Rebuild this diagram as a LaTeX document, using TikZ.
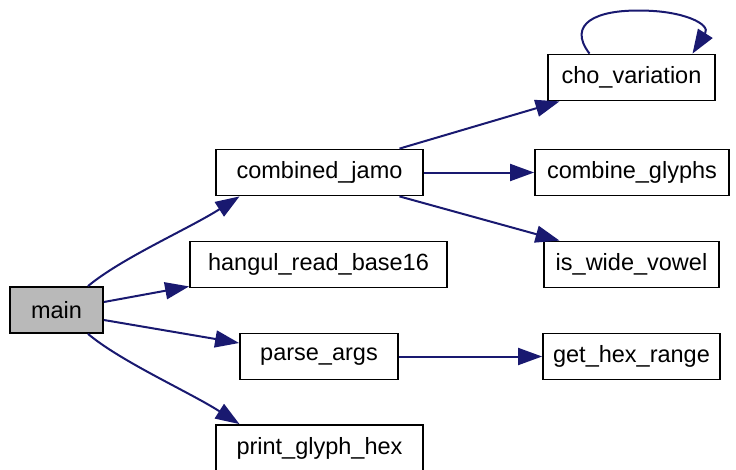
\documentclass[tikz,border=0pt]{standalone}
\usepackage{fontspec}
\setmainfont{Liberation Sans}
\usetikzlibrary{arrows.meta}
\definecolor{edgeblue}{HTML}{191970}
\tikzset{
  fn/.style={draw=black, line width=1.8pt, fill=white, minimum height=46pt, inner sep=0pt,
    font=\fontsize{23.5}{28}\selectfont},
  mainfn/.style={fn, fill=gray!55},
  call/.style={draw=edgeblue, line width=2pt, -{Triangle[length=24pt,width=17pt]}, fill=none},
}
\begin{document}
\begin{tikzpicture}[x=1pt,y=-1pt]
\useasboundingbox (0,0) rectangle (736,469);
\node[mainfn, minimum width=93pt] (main) at (56.5,310) {main};
\node[fn, minimum width=207pt] (cj) at (319.5,172.5) {combined\_jamo};
\node[fn, minimum width=257pt] (hr) at (318.5,264.5) {hangul\_read\_base16};
\node[fn, minimum width=158pt] (pa) at (319,356.5) {parse\_args};
\node[fn, minimum width=207pt] (pg) at (319.5,448) {print\_glyph\_hex};
\node[fn, minimum width=167pt] (cv) at (631.5,77.5) {cho\_variation};
\node[fn, minimum width=194pt] (cg) at (632,172.5) {combine\_glyphs};
\node[fn, minimum width=175pt] (iw) at (631.5,264.5) {is\_wide\_vowel};
\node[fn, minimum width=177pt] (gh) at (631.5,356.5) {get\_hex\_range};

\draw[call] ([xshift=31.5pt]main.north) .. controls ([xshift=65pt,yshift=28pt]main.north) and ([xshift=-130pt,yshift=-32pt]cj.south) .. ([xshift=-80pt]cj.south);
\draw[call] ([yshift=8pt]main.east) -- ([yshift=2pt]hr.south west);
\draw[call] ([yshift=-10pt]main.east) -- ([yshift=13.5pt]pa.west);
\draw[call] ([xshift=31.5pt]main.south) .. controls ([xshift=65pt,yshift=-28pt]main.south) and ([xshift=-130pt,yshift=32pt]pg.north) .. ([xshift=-80pt]pg.north);

\draw[call] ([xshift=80pt]cj.north) -- ([xshift=-72pt]cv.south);
\draw[call] (cj.east) -- (cg.west);
\draw[call] ([xshift=80pt]cj.south) -- ([xshift=-72pt]iw.north);
\draw[call] (pa.east) -- (gh.west);

\draw[call] ([xshift=-42pt]cv.north) .. controls ([xshift=-65pt,yshift=30pt]cv.north) and ([xshift=-35pt,yshift=44pt]cv.north) .. ([xshift=10pt,yshift=43pt]cv.north) .. controls ([xshift=50pt,yshift=43pt]cv.north) and ([xshift=80pt,yshift=30pt]cv.north) .. ([xshift=61pt]cv.north);
\end{tikzpicture}
\end{document}
